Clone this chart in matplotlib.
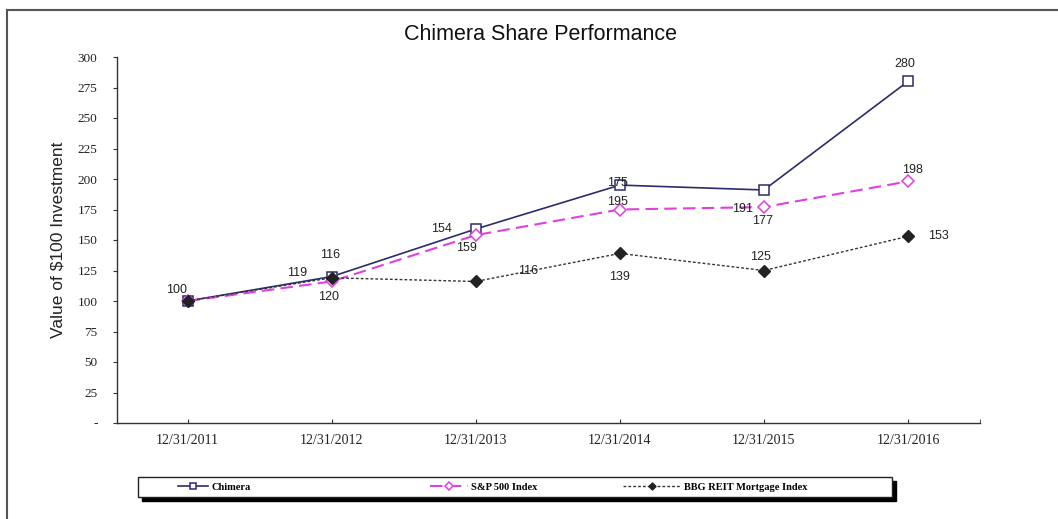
import matplotlib
matplotlib.use("Agg")
import matplotlib.pyplot as plt
from matplotlib.lines import Line2D
from matplotlib.patches import Rectangle
from matplotlib.ticker import FuncFormatter

# data
dates = ["12/31/2011", "12/31/2012", "12/31/2013", "12/31/2014", "12/31/2015", "12/31/2016"]
chimera = [100, 120, 159, 195, 191, 280]
sp500 = [100, 116, 154, 175, 177, 198]
bbg_reit = [100, 119, 116, 139, 125, 153]
names = ["Chimera", "S&P 500 Index", "BBG REIT Mortgage Index"]

# where each value label sits, relative to its point (pixels)
off_chimera = [(-11, 11), (-3, -20), (-9, -19), (-2, -17), (-21, -19), (-3, 17)]
off_sp500 = [None, (-2, 26), (-34, 6), (-2, 26), (-1, -14), (5, 11)]
off_bbg = [None, (-35, 5), (52, 10), (0, -24), (-3, 13), (30, 0)]

W, H = 1058, 519
fig = plt.figure(figsize=(W / 100, H / 100), dpi=100)
ax = fig.add_axes([117 / W, 1 - 423 / H, (980 - 117) / W, (423 - 57) / H])

x = range(len(dates))
c_chim = "#2b2b6e"
c_sp = "#e040e0"
c_bbg = "#333333"

ax.plot(x, chimera, color=c_chim, lw=1.2, marker="s", ms=7, mfc="white", mec=c_chim, mew=1.1,
        label=names[0], zorder=3)
ax.plot(x, sp500, color=c_sp, lw=1.5, ls=(0, (6, 3)), marker="D", ms=6.5, mfc="white", mec=c_sp,
        mew=1.1, label=names[1], zorder=4)
ax.plot(x, bbg_reit, color=c_bbg, lw=1.0, ls=(0, (2, 1.5)), marker="D", ms=6, mfc="#222222",
        mec="#222222", label=names[2], zorder=5)

lab_font = dict(family="Liberation Sans", size=9, color="#222222")
for vals, offs in [(chimera, off_chimera), (sp500, off_sp500), (bbg_reit, off_bbg)]:
    for i, (v, o) in enumerate(zip(vals, offs)):
        if o is None:
            continue
        ax.annotate(str(v), (i, v), xytext=o, textcoords="offset pixels",
                    ha="center", va="center", zorder=6, **lab_font)

ax.set_xlim(-0.49, 5.5)
ax.set_ylim(0, 300)
ax.set_yticks(range(0, 301, 25))
ax.yaxis.set_major_formatter(FuncFormatter(lambda v, p: "-" if v == 0 else "%d" % v))
ax.set_xticks(list(x))
ax.set_xticklabels(dates)
ax.set_xticks([5.5], minor=True)

for s in ["top", "right"]:
    ax.spines[s].set_visible(False)
for s in ["left", "bottom"]:
    ax.spines[s].set_color("#333333")
    ax.spines[s].set_linewidth(1.0)

ax.tick_params(axis="y", direction="out", length=3, color="#333333", pad=11,
               labelsize=9.5, labelcolor="#222222")
ax.tick_params(axis="x", which="both", direction="in", length=3, color="#333333", pad=8,
               labelsize=10, labelcolor="#222222")
for t in ax.get_xticklabels() + ax.get_yticklabels():
    t.set_family("Liberation Serif")

ax.set_ylabel("Value of $100 Investment", family="Liberation Sans", fontsize=12.5,
              color="#222222", labelpad=9)
fig.text(540 / W, 1 - 35 / H, "Chimera Share Performance", family="Liberation Sans",
         fontsize=15.5, ha="center", va="center", color="#111111")

# legend box with shadow
bx0, bx1, by0, by1 = 138, 892, 477, 497
fig.add_artist(Rectangle(((bx0 + 4) / W, 1 - (by1 + 4) / H), (bx1 - bx0) / W, (by1 - by0) / H,
                         transform=fig.transFigure, facecolor="black", edgecolor="black", zorder=1))
fig.add_artist(Rectangle((bx0 / W, 1 - by1 / H), (bx1 - bx0) / W, (by1 - by0) / H,
                         transform=fig.transFigure, facecolor="white", edgecolor="#222222",
                         lw=1.0, zorder=2))

handles = ax.get_lines()
leg_x = [178, 430, 623]
leg_len = [2.9, 3.6, 5.6]
for h, lx, ll in zip(handles, leg_x, leg_len):
    lg = fig.legend([h], [h.get_label()], loc="center left", bbox_to_anchor=(lx / W, 1 - 487 / H),
                    frameon=False, handlelength=ll, handletextpad=0.3, borderpad=0, borderaxespad=0,
                    markerscale=0.6, prop=dict(family="Liberation Serif", size=7.5, weight="bold"))
    lg.set_zorder(3)

# outer frame of the picture
fig.add_artist(Line2D([7 / W, 1], [1 - 10 / H, 1 - 10 / H], color="#555555", lw=1.5))
fig.add_artist(Line2D([7 / W, 7 / W], [0, 1 - 10 / H], color="#555555", lw=1.5))

fig.savefig("out.png", dpi=100)
